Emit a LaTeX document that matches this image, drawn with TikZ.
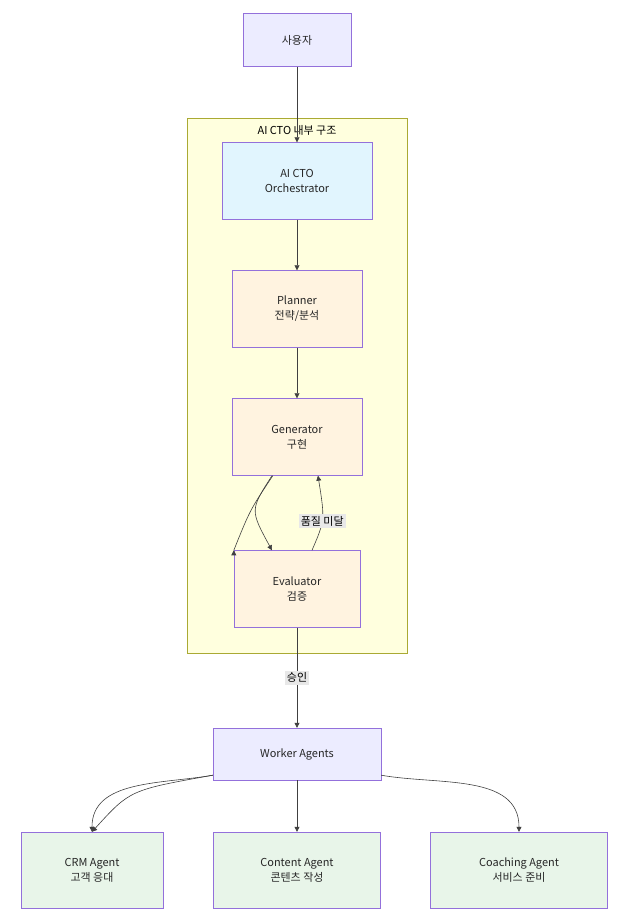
\documentclass[tikz,border=0pt]{standalone}
\usepackage{fontspec}
\setmainfont{Noto Sans CJK KR}
\usetikzlibrary{positioning, arrows.meta}
\definecolor{lavfill}{HTML}{ECECFF}
\definecolor{lavline}{HTML}{9370DB}
\definecolor{bluefill}{HTML}{E1F5FE}
\definecolor{orangefill}{HTML}{FFF3E0}
\definecolor{greenfill}{HTML}{E8F5E9}
\definecolor{groupfill}{HTML}{FFFFDE}
\definecolor{groupline}{HTML}{AAAA33}
\definecolor{lblfill}{HTML}{E8E8E8}
\tikzset{
  box/.style={draw=lavline, fill=lavfill, align=center, font=\fontsize{11}{15}\selectfont, text=black!85},
  flow/.style={-{Triangle[length=5pt,width=5pt]}, draw=black!75, line width=0.6pt},
  lbl/.style={fill=lblfill, font=\fontsize{11}{13}\selectfont, inner sep=2pt}
}
\begin{document}
\begin{tikzpicture}[x=1bp, y=-1bp]
		\useasboundingbox (0,0) rectangle (631,920);
		% group
		\draw[groupline, fill=groupfill] (187,118) rectangle (407,653);
		\node[font=\fontsize{11}{13}\selectfont] (title) at (297,130) {AI CTO 내부 구조};

		\node[box, minimum width=108bp, minimum height=53bp] (user) at (297,40) {사용자};
		\node[box, fill=bluefill, minimum width=150bp, minimum height=77bp] (cto) at (297,181) {AI CTO\\Orchestrator};
		\node[box, fill=orangefill, minimum width=130bp, minimum height=77bp] (plan) at (297,309) {Planner\\전략/분석};
		\node[box, fill=orangefill, minimum width=130bp, minimum height=77bp] (gen) at (297,437) {Generator\\구현};
		\node[box, fill=orangefill, minimum width=126bp, minimum height=77bp] (eval) at (297,589) {Evaluator\\검증};
		\node[box, minimum width=168bp, minimum height=52bp] (work) at (297,754) {Worker Agents};
		\node[box, fill=greenfill, minimum width=142bp, minimum height=76bp] (crm) at (92,870) {CRM Agent\\고객 응대};
		\node[box, fill=greenfill, minimum width=167bp, minimum height=76bp] (cont) at (297,870) {Content Agent\\콘텐츠 작성};
		\node[box, fill=greenfill, minimum width=177bp, minimum height=76bp] (coach) at (519,870) {Coaching Agent\\서비스 준비};

		\draw[flow] (user) -- (cto);
		\draw[flow] (cto) -- (plan);
		\draw[flow] (plan) -- (gen);
		\draw[flow] (gen.south west) ++(41,0) .. controls (250,510) .. (eval.north west) ++(0,0);
		\draw[flow] ([xshift=-25bp]gen.south) .. controls (250,510) .. ([xshift=-25bp]eval.north);
		\draw[flow] ([xshift=15bp]eval.north) .. controls (325,520) .. node[lbl, pos=0.45] {품질 미달} ([xshift=21bp]gen.south);
		\draw[flow] (eval) -- node[lbl] {승인} (work);
		\draw[flow] (work.south west) ++(0,-5) .. controls (130,790) .. (crm.north);
		\draw[flow] (work.south west) ++(0,-5) to[out=-170, in=90] (crm.north);
		\draw[flow] (work) -- (cont);
		\draw[flow] (work.south east) ++(0,-5) to[out=-10, in=90] (coach.north);
	\end{tikzpicture}
\end{document}
